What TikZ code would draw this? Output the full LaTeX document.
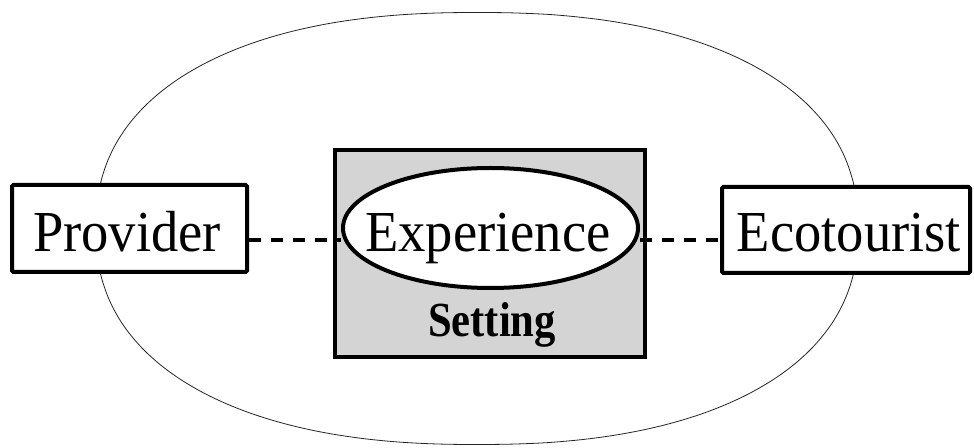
\documentclass[tikz,border=0pt]{standalone}
\usepackage{fontspec}
\setmainfont{Liberation Serif}[FakeStretch=0.94]
\newfontfamily\setfont{Liberation Serif}[FakeStretch=0.87]
\usetikzlibrary{shapes.geometric}
\definecolor{setgray}{RGB}{212,212,212}
\tikzset{
  thickbox/.style={draw=black, line width=4pt, fill=white, rounded corners=1.5pt, inner sep=0pt},
  bigtext/.style={anchor=base, inner sep=0pt, font=\fontsize{58}{60}\selectfont},
  conn/.style={line width=3.5pt, dash pattern=on 12pt off 10pt},
}
\begin{document}
\begin{tikzpicture}[x=1pt,y=1pt]
\fill[white] (0,0) rectangle (974,447);
\useasboundingbox (0,0) rectangle (974,447);
% outer rounded (superelliptic) boundary
\draw[black!85, line width=0.8pt] plot[smooth cycle, samples=145, domain=0:357.5, variable=\t]
  ({477+381*sign(cos(\t))*pow(abs(cos(\t))+0.00001,0.87)},
   {218.5+216*sign(sin(\t))*pow(abs(sin(\t))+0.00001,0.87)});
% boxes
\node[thickbox, minimum width=235pt, minimum height=87pt] (prov) at (129.5,218.5) {};
\node[thickbox, fill=setgray, rounded corners=0pt, minimum width=310pt, minimum height=207pt] (set) at (490,193.5) {};
\node[thickbox, minimum width=248pt, minimum height=86pt] (eco) at (846,217) {};
\node[draw=black, line width=4pt, fill=white, ellipse, minimum width=295pt, minimum height=120pt, inner sep=0pt] (exp) at (490.5,219) {};
% texts
\node[bigtext] (provt) at (127,195) {Provider};
\node[bigtext] (expt) at (488,195) {Experience};
\node[bigtext] (ecot) at (849,195) {Ecotourist};
\node[anchor=base, inner sep=0pt, font=\setfont\bfseries\fontsize{49}{50}\selectfont] (sett) at (492,110) {Setting};
% connectors
\coordinate (dashy) at (0,207);
\draw[conn] (prov.east |- dashy) -- (exp.west |- dashy);
\draw[conn] (exp.east |- dashy) -- (eco.west |- dashy);
\end{tikzpicture}
\end{document}
